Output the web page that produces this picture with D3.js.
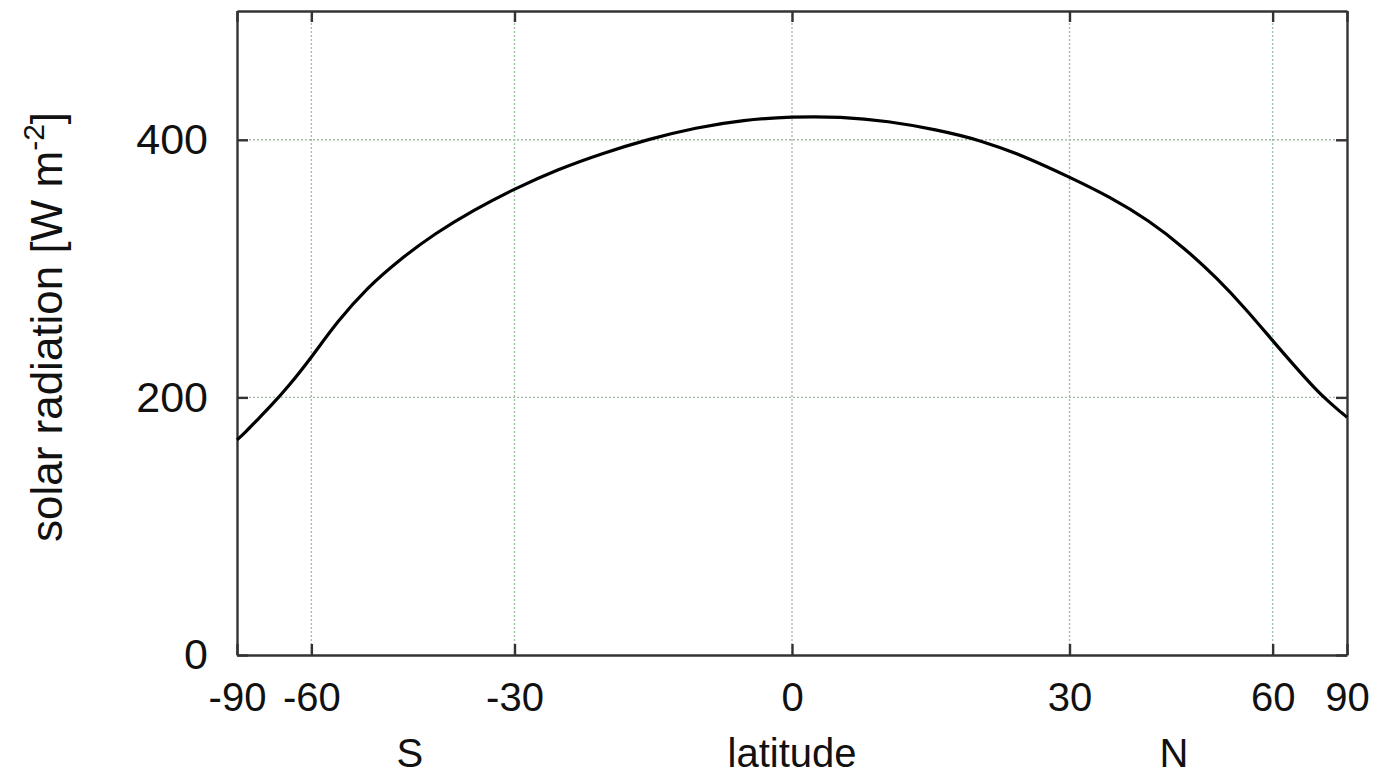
<!DOCTYPE html>
<html>
<head>
<meta charset="utf-8">
<script src="https://cdn.jsdelivr.net/npm/d3@7"></script>
<style>
  html, body { margin: 0; padding: 0; background: #fff; }
  text { font-family: "Liberation Sans", Arial, sans-serif; fill: #111; }
</style>
</head>
<body>
<div id="chart"></div>
<script>
// data
const latitudes = [-90, -85, -80, -75, -70, -65, -60, -55, -50, -45, -40, -35, -30, -25, -20, -15, -10, -5,
  0, 5, 10, 15, 20, 25, 30, 35, 40, 45, 50, 55, 60, 65, 70, 75, 80, 85, 90];
const radiation = [167, 168.5, 173, 181.5, 193, 209, 231, 259, 285, 307, 327.5, 345.5, 362, 377, 389.5, 400.5, 409.5, 415.5,
  418, 418, 414.5, 408, 399.5, 386.5, 371, 355.5, 337.5, 316, 292.5, 268, 244, 224, 208, 197, 190, 186, 184.5];
const xTicks = [-90, -60, -30, 0, 30, 60, 90];
const xGrid = [-60, -30, 0, 30, 60];
const yTicks = [0, 200, 400];
const yGrid = [200, 400];

const W = 1377, H = 779;
const plot = { left: 237, right: 1347, top: 11, bottom: 655 };

const svg = d3.select("#chart").append("svg")
  .attr("width", W).attr("height", H);

// x axis is linear in sin(latitude)
const rad = (d) => Math.sin(d * Math.PI / 180);
const xs = d3.scaleLinear().domain([-1, 1]).range([plot.left, plot.right]);
const x = (d) => xs(rad(d));
const y = d3.scaleLinear().domain([0, 500]).range([plot.bottom, plot.top]);

// grid: dotted gray + green
const grid = svg.append("g");
[["#b0b0b0", 0], ["#98cc98", 4]].forEach(([c, off]) => {
  grid.selectAll(null).data(xGrid).enter().append("line")
    .attr("x1", (d) => x(d)).attr("x2", (d) => x(d))
    .attr("y1", plot.top).attr("y2", plot.bottom)
    .attr("stroke", c).attr("stroke-width", 1.4)
    .attr("stroke-dasharray", "2,6").attr("stroke-dashoffset", off);
  grid.selectAll(null).data(yGrid).enter().append("line")
    .attr("x1", plot.left).attr("x2", plot.right)
    .attr("y1", (d) => y(d)).attr("y2", (d) => y(d))
    .attr("stroke", c).attr("stroke-width", 1.4)
    .attr("stroke-dasharray", "2,6").attr("stroke-dashoffset", off);
});

// axes, ticks pointing inward on all four sides
const tickLen = 11;
const xAxisB = d3.axisBottom(xs).tickValues(xTicks.map(rad))
  .tickFormat((d, i) => xTicks[i]).tickSizeInner(-tickLen).tickSizeOuter(0).tickPadding(28);
const xAxisT = d3.axisTop(xs).tickValues(xTicks.map(rad))
  .tickFormat("").tickSizeInner(-tickLen).tickSizeOuter(0);
const yAxisL = d3.axisLeft(y).tickValues(yTicks)
  .tickSizeInner(-tickLen).tickSizeOuter(0).tickPadding(29);
const yAxisR = d3.axisRight(y).tickValues(yTicks)
  .tickFormat("").tickSizeInner(-tickLen).tickSizeOuter(0);

const axes = [
  [xAxisB, `translate(0,${plot.bottom})`, "40px"],
  [xAxisT, `translate(0,${plot.top})`, "40px"],
  [yAxisL, `translate(${plot.left},0)`, "43px"],
  [yAxisR, `translate(${plot.right},0)`, "43px"]
];
axes.forEach(([ax, tr, fs]) => {
  const g = svg.append("g").attr("transform", tr).call(ax);
  g.select(".domain").attr("stroke", "#333").attr("stroke-width", 2.4);
  g.selectAll(".tick line").attr("stroke", "#333").attr("stroke-width", 2.4);
  g.selectAll(".tick text")
    .style("font-family", "'Liberation Sans', Arial, sans-serif")
    .style("font-size", fs).attr("fill", "#111");
});

// curve
const line = d3.line()
  .x((d, i) => x(latitudes[i]))
  .y((d) => y(d))
  .curve(d3.curveBasis);

svg.append("path")
  .datum(radiation)
  .attr("d", line)
  .attr("fill", "none")
  .attr("stroke", "#000")
  .attr("stroke-width", 3.2);

// labels
const bottomLabels = [["S", -43.5], ["latitude", 0], ["N", 43.5]];
svg.selectAll(null).data(bottomLabels).enter().append("text")
  .attr("x", (d) => x(d[1])).attr("y", 767)
  .attr("text-anchor", "middle")
  .style("font-size", "40px").text((d) => d[0]);

const yl = svg.append("text")
  .attr("transform", "translate(62,327) rotate(-90)")
  .attr("text-anchor", "middle")
  .style("font-size", "44px");
yl.append("tspan").text("solar radiation [W m");
yl.append("tspan").attr("dy", -18).style("font-size", "30px").text("-2");
yl.append("tspan").attr("dy", 18).text("]");
</script>
</body>
</html>
